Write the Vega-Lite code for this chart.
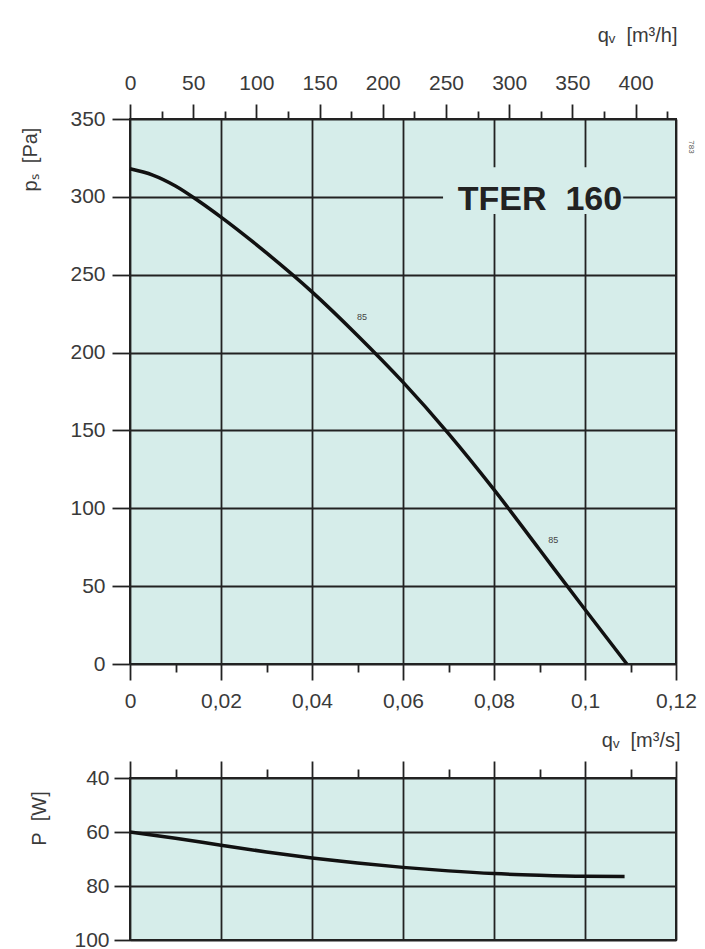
{
  "$schema": "https://vega.github.io/schema/vega-lite/v6.json",
  "padding": {"left": 19, "top": 24, "right": 5, "bottom": 5},
  "background": "white",
  "spacing": 8,
  "config": {
    "view": {"fill": "#d6edea", "stroke": "#222", "strokeWidth": 2},
    "axis": {
      "domain": false,
      "gridColor": "#222", "gridWidth": 1.8,
      "tickColor": "#222", "tickWidth": 1.8,
      "labelFont": "Liberation Sans", "labelFontSize": 21, "labelColor": "#3a3a3a",
      "titleFont": "Liberation Sans", "titleFontSize": 20, "titleFontWeight": "normal", "titleColor": "#3a3a3a",
      "labelOverlap": false, "labelFlush": false, "labelBound": false
    }
  },
  "vconcat": [
    {
      "width": 546,
      "height": 545,
      "resolve": {"axis": {"x": "independent"}},
      "layer": [
        {
          "data": {"values": [
            {"q": 0, "p": 318}, {"q": 0.005, "p": 314}, {"q": 0.01, "p": 307}, {"q": 0.015, "p": 297.5},
            {"q": 0.02, "p": 287}, {"q": 0.03, "p": 264}, {"q": 0.04, "p": 239}, {"q": 0.05, "p": 211},
            {"q": 0.06, "p": 181}, {"q": 0.07, "p": 148},
            {"q": 0.08, "p": 112}, {"q": 0.09, "p": 73.5}, {"q": 0.1, "p": 35},
            {"q": 0.1092, "p": 0}
          ]},
          "mark": {"type": "line", "color": "#111", "strokeWidth": 3.5, "interpolate": "monotone"},
          "encoding": {
            "x": {"field": "q", "type": "quantitative",
              "scale": {"domain": [0, 0.12], "nice": false, "zero": false},
              "axis": {
                "orient": "bottom",
                "values": [0, 0.01, 0.02, 0.03, 0.04, 0.05, 0.06, 0.07, 0.08, 0.09, 0.1, 0.11, 0.12],
                "grid": true,
                "gridOpacity": {"condition": {"test": "round(datum.value*100) % 2 == 0", "value": 1}, "value": 0},
                "tickSize": {"condition": {"test": "round(datum.value*100) % 2 == 0", "value": 16}, "value": 8},
                "labelExpr": "round(datum.value*100) % 2 == 0 ? replace(toString(round(datum.value*100)/100), '.', ',') : ''",
                "labelPadding": 10.5,
                "title": "qᵥ\u00a0\u00a0[m³/s]",
                "titleX": 550, "titleY": 76, "titleAlign": "right", "titleBaseline": "middle", "titleAnchor": null
              }
            },
            "y": {"field": "p", "type": "quantitative",
              "scale": {"domain": [0, 350], "nice": false},
              "axis": {
                "values": [0, 25, 50, 75, 100, 125, 150, 175, 200, 225, 250, 275, 300, 325, 350],
                "grid": true,
                "gridOpacity": {"condition": {"test": "round(datum.value) % 50 == 0", "value": 1}, "value": 0},
                "tickSize": {"condition": {"test": "round(datum.value) % 50 == 0", "value": 18}, "value": 11},
                "labelExpr": "round(datum.value) % 50 == 0 ? toString(round(datum.value)) : ''",
                "labelPadding": 7,
                "title": "pₛ\u00a0\u00a0[Pa]",
                "titleX": -100, "titleY": 40, "titleAlign": "center", "titleBaseline": "middle", "titleAngle": -90, "titleAnchor": null
              }
            }
          }
        },
        {
          "data": {"values": [{"x1": 0.0688, "x2": 0.1084, "y1": 289, "y2": 319}]},
          "mark": {"type": "rect", "fill": "#d6edea"},
          "encoding": {
            "x": {"field": "x1", "type": "quantitative",
              "scale": {"domain": [0, 0.12], "nice": false, "zero": false},
              "axis": {
                "orient": "top",
                "values": [0, 0.0069444, 0.0138889, 0.0208333, 0.0277778, 0.0347222, 0.0416667, 0.0486111, 0.0555556, 0.0625, 0.0694444, 0.0763889, 0.0833333, 0.0902778, 0.0972222, 0.1041667, 0.1111111, 0.1180556],
                "grid": false,
                "tickSize": {"condition": {"test": "round(datum.value*3600) % 50 == 0", "value": 15}, "value": 8},
                "labelExpr": "round(datum.value*3600) % 50 == 0 ? toString(round(datum.value*3600)) : ''",
                "labelPadding": 11,
                "title": "qᵥ\u00a0\u00a0[m³/h]",
                "titleX": 547, "titleY": -84, "titleAlign": "right", "titleBaseline": "middle", "titleAnchor": null
              }
            },
            "x2": {"field": "x2"},
            "y": {"field": "y1", "type": "quantitative", "scale": {"domain": [0, 350], "nice": false}},
            "y2": {"field": "y2"}
          }
        },
        {
          "data": {"values": [{"q": 0.0901, "p": 298, "t": "TFER\u00a0\u00a0160"}]},
          "mark": {"type": "text", "font": "Liberation Sans", "fontSize": 34, "fontWeight": "bold", "color": "#222", "baseline": "middle", "align": "center"},
          "encoding": {
            "x": {"field": "q", "type": "quantitative", "scale": {"domain": [0, 0.12], "nice": false, "zero": false}, "axis": null},
            "y": {"field": "p", "type": "quantitative", "scale": {"domain": [0, 350], "nice": false}},
            "text": {"field": "t"}
          }
        },
        {
          "data": {"values": [{"q": 0.051, "p": 223, "t": "85"}, {"q": 0.093, "p": 79.5, "t": "85"}]},
          "mark": {"type": "text", "font": "Liberation Sans", "fontSize": 9, "color": "#444", "baseline": "middle", "align": "center"},
          "encoding": {
            "x": {"field": "q", "type": "quantitative", "scale": {"domain": [0, 0.12], "nice": false, "zero": false}, "axis": null},
            "y": {"field": "p", "type": "quantitative", "scale": {"domain": [0, 350], "nice": false}},
            "text": {"field": "t"}
          }
        },
        {
          "data": {"values": [{"q": 0.1233, "p": 332, "t": "783"}]},
          "mark": {"type": "text", "font": "Liberation Sans", "fontSize": 8, "color": "#555", "baseline": "middle", "align": "center", "angle": 90},
          "encoding": {
            "x": {"field": "q", "type": "quantitative", "scale": {"domain": [0, 0.12], "nice": false, "zero": false}, "axis": null},
            "y": {"field": "p", "type": "quantitative", "scale": {"domain": [0, 350], "nice": false}},
            "text": {"field": "t"}
          }
        }
      ]
    },
    {
      "width": 546,
      "height": 162,
      "data": {"values": [
        {"q": 0, "P": 60}, {"q": 0.01, "P": 62.3}, {"q": 0.02, "P": 64.9}, {"q": 0.03, "P": 67.4},
        {"q": 0.04, "P": 69.6}, {"q": 0.05, "P": 71.5}, {"q": 0.06, "P": 73.1}, {"q": 0.07, "P": 74.4},
        {"q": 0.08, "P": 75.4}, {"q": 0.09, "P": 76.0}, {"q": 0.1, "P": 76.4}, {"q": 0.1087, "P": 76.5}
      ]},
      "mark": {"type": "line", "color": "#111", "strokeWidth": 3.5, "interpolate": "monotone"},
      "encoding": {
        "x": {"field": "q", "type": "quantitative",
          "scale": {"domain": [0, 0.12], "nice": false, "zero": false},
          "axis": {
            "orient": "top",
            "values": [0, 0.01, 0.02, 0.03, 0.04, 0.05, 0.06, 0.07, 0.08, 0.09, 0.1, 0.11, 0.12],
            "grid": true,
            "gridOpacity": {"condition": {"test": "round(datum.value*100) % 2 == 0", "value": 1}, "value": 0},
            "tickSize": {"condition": {"test": "round(datum.value*100) % 2 == 0", "value": 17}, "value": 9},
            "labels": false,
            "title": null
          }
        },
        "y": {"field": "P", "type": "quantitative",
          "scale": {"domain": [40, 100], "reverse": true, "nice": false, "zero": false},
          "axis": {
            "values": [40, 60, 80, 100],
            "grid": true,
            "tickSize": 16,
            "labelPadding": 5,
            "title": "P\u00a0\u00a0[W]",
            "titleX": -91, "titleY": 40, "titleAlign": "center", "titleBaseline": "middle", "titleAngle": -90, "titleAnchor": null
          }
        }
      }
    }
  ]
}
